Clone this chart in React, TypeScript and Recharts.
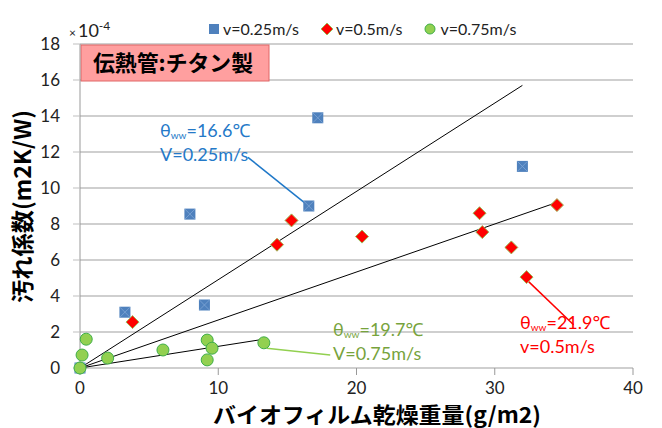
import { ScatterChart, Scatter, XAxis, YAxis, CartesianGrid, ReferenceLine, Legend, Customized } from 'recharts'

// fouling factor (x10^-4 m2K/W) vs dry biofilm weight (g/m2)
const slowX = [0, 3.25, 7.95, 9.0, 16.55, 17.2, 32.0]
const slowY = [0, 3.1, 8.55, 3.5, 9.0, 13.9, 11.2]

const midX = [3.8, 14.25, 15.3, 20.4, 28.9, 29.1, 31.2, 32.3, 34.5]
const midY = [2.55, 6.85, 8.2, 7.3, 8.6, 7.55, 6.7, 5.05, 9.05]

const fastX = [0, 0.15, 0.45, 2.0, 6.0, 9.2, 9.55, 9.2, 13.3]
const fastY = [0, 0.72, 1.6, 0.55, 1.0, 1.55, 1.1, 0.45, 1.4]

// fitted lines through the origin: [x end, y end]
const fitSlow = [32.0, 15.7]
const fitMid = [34.5, 9.2]
const fitFast = [13.3, 1.6]

const xTicks = [0, 10, 20, 30, 40]
const yTicks = [0, 2, 4, 6, 8, 10, 12, 14, 16, 18]

const seriesNames = ['v=0.25m/s', 'v=0.5m/s', 'v=0.75m/s']

const toPoints = (xs: number[], ys: number[]) => xs.map((x, i) => ({ x, y: ys[i] }))

const BLUE = '#4F81BD'
const RED = '#FF0000'
const GREEN = '#92D050'
const FONT = 'Lato, "Noto Sans", sans-serif'
const JP = '"Noto Sans CJK JP", sans-serif'

const SquareMark = (p: any) => (
  <g>
    <rect x={p.cx - 5.5} y={p.cy - 5.5} width={11} height={11} fill={BLUE} />
    <path d={`M${p.cx - 5} ${p.cy - 5}L${p.cx + 5} ${p.cy + 5}M${p.cx + 5} ${p.cy - 5}L${p.cx - 5} ${p.cy + 5}`} stroke="#7FA6D6" strokeWidth={0.8} />
  </g>
)

const DiamondMark = (p: any) => (
  <polygon
    points={`${p.cx},${p.cy - 6.5} ${p.cx + 6.5},${p.cy} ${p.cx},${p.cy + 6.5} ${p.cx - 6.5},${p.cy}`}
    fill={RED}
    stroke="#9BBB59"
    strokeWidth={1}
  />
)

const CircleMark = (p: any) => (
  <circle cx={p.cx} cy={p.cy} r={6} fill={GREEN} stroke="#3FAE49" strokeWidth={1} />
)

const LegendBox = () => (
  <div style={{ display: 'flex', alignItems: 'center', fontFamily: FONT, fontSize: 16, color: '#222', whiteSpace: 'nowrap' }}>
    <svg width={10} height={10} style={{ marginRight: 4 }}>
      <rect width={10} height={10} fill={BLUE} />
    </svg>
    <span style={{ marginRight: 22 }}>{seriesNames[0]}</span>
    <svg width={12} height={12} style={{ marginRight: 3 }}>
      <polygon points="6,0 12,6 6,12 0,6" fill={RED} stroke="#9BBB59" />
    </svg>
    <span style={{ marginRight: 22 }}>{seriesNames[1]}</span>
    <svg width={12} height={12} style={{ marginRight: 4 }}>
      <circle cx={6} cy={6} r={5} fill={GREEN} stroke="#3FAE49" />
    </svg>
    <span>{seriesNames[2]}</span>
  </div>
)

const Theta = ({ x, y, color, temp, speed }: any) => (
  <g fill={color} fontFamily={FONT} fontSize={18}>
    <text x={x} y={y}>
      θ<tspan fontSize={10} dy={2}>ww</tspan>
      <tspan dy={-2}>={temp}℃</tspan>
    </text>
    <text x={x} y={y + 24}>{speed}</text>
  </g>
)

const Overlay = () => (
  <g>
    <text x={69} y={37} fontFamily={FONT} fill="#222">
      <tspan fontSize={12}>×</tspan>
      <tspan fontSize={18} dx={2}>10</tspan>
      <tspan fontSize={12} dy={-7}>-4</tspan>
    </text>

    <rect x={81} y={45} width={188} height={36} fill="#FF9F9F" stroke="#E06666" strokeWidth={1} />
    <text
      x={173}
      y={71}
      textAnchor="middle"
      fontFamily={JP}
      fontWeight="bold"
      fontSize={22}
      textLength={160}
      lengthAdjust="spacingAndGlyphs"
      fill="#000"
    >
      伝熱管:チタン製
    </text>

    <Theta x={160} y={137} color="#2479C8" temp="16.6" speed="V=0.25m/s" />
    <Theta x={333} y={336} color="#77A33C" temp="19.7" speed="V=0.75m/s" />
    <Theta x={520} y={329} color={RED} temp="21.9" speed="v=0.5m/s" />

    <text
      transform="translate(31,206.5) rotate(-90)"
      textAnchor="middle"
      fontFamily={JP}
      fontWeight="bold"
      fontSize={23}
      textLength={193}
      lengthAdjust="spacingAndGlyphs"
      fill="#000"
    >
      汚れ係数(m2K/W)
    </text>
    <text
      x={377}
      y={423}
      textAnchor="middle"
      fontFamily={JP}
      fontWeight="bold"
      fontSize={22}
      textLength={328}
      lengthAdjust="spacingAndGlyphs"
      fill="#000"
    >
      バイオフィルム乾燥重量(g/m2)
    </text>
  </g>
)

export default function App() {
  return (
    <div style={{ position: 'absolute', left: 0, top: 0, background: '#fff' }}>
      <ScatterChart width={662} height={428} margin={{ top: 44, right: 29, bottom: 0, left: 0 }}>
        <CartesianGrid vertical={false} stroke="#BFBFBF" strokeWidth={1.5} />
        <XAxis
          type="number"
          dataKey="x"
          domain={[0, 40]}
          ticks={xTicks}
          height={60}
          axisLine={false}
          tickSize={7}
          tickMargin={7}
          tickLine={{ stroke: '#999' }}
          tick={{ fill: '#222', fontSize: 17, fontFamily: FONT }}
        />
        <YAxis
          type="number"
          dataKey="y"
          domain={[0, 18]}
          ticks={yTicks}
          width={80}
          axisLine={{ stroke: '#999' }}
          tickSize={7}
          tickMargin={13}
          tickLine={{ stroke: '#BFBFBF' }}
          tick={{ fill: '#222', fontSize: 17, fontFamily: FONT }}
        />
        <Legend
          layout="horizontal"
          align="center"
          verticalAlign="middle"
          wrapperStyle={{ top: 19, left: 209, width: 'auto' }}
          content={<LegendBox />}
        />

        <ReferenceLine segment={[{ x: 0, y: 0 }, { x: fitSlow[0], y: fitSlow[1] }]} stroke="#000" strokeWidth={1} />
        <ReferenceLine segment={[{ x: 0, y: 0 }, { x: fitMid[0], y: fitMid[1] }]} stroke="#000" strokeWidth={1} />
        <ReferenceLine segment={[{ x: 0, y: 0 }, { x: fitFast[0], y: fitFast[1] }]} stroke="#000" strokeWidth={1} />

        {/* callout leaders */}
        <ReferenceLine segment={[{ x: 12.15, y: 11.7 }, { x: 16.3, y: 9.15 }]} stroke="#1F78C8" strokeWidth={1.5} />
        <ReferenceLine segment={[{ x: 13.5, y: 1.1 }, { x: 18.1, y: 0.72 }]} stroke="#92D050" strokeWidth={1.5} />
        <ReferenceLine segment={[{ x: 32.45, y: 4.8 }, { x: 35.7, y: 2.4 }]} stroke={RED} strokeWidth={1.5} />

        <Scatter name={seriesNames[0]} data={toPoints(slowX, slowY)} shape={SquareMark} isAnimationActive={false} />
        <Scatter name={seriesNames[1]} data={toPoints(midX, midY)} shape={DiamondMark} isAnimationActive={false} />
        <Scatter name={seriesNames[2]} data={toPoints(fastX, fastY)} shape={CircleMark} isAnimationActive={false} />

        <Customized component={<Overlay />} />
      </ScatterChart>
    </div>
  )
}
